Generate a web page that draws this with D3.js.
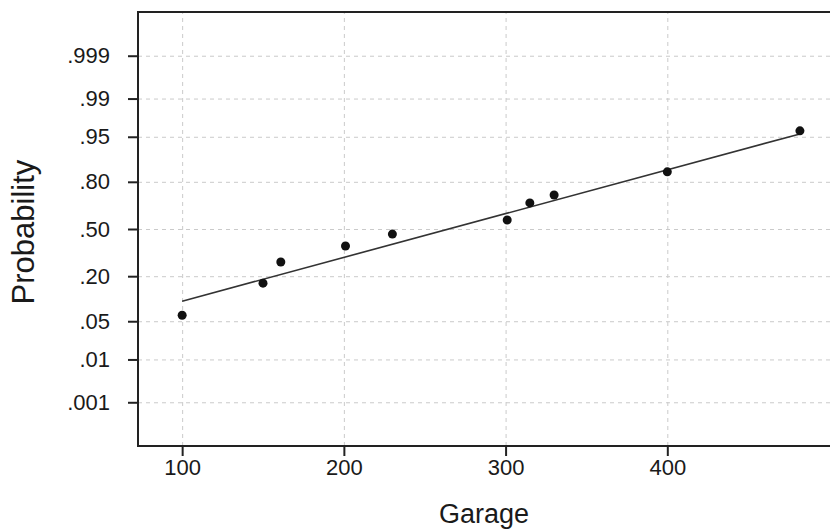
<!DOCTYPE html>
<html>
<head>
<meta charset="utf-8">
<script src="https://cdn.jsdelivr.net/npm/d3@7"></script>
<style>
  body { margin: 0; background: #fff; }
  svg { display: block; font-family: "Liberation Sans", Arial, sans-serif; }
  .grid line { stroke: #cacaca; stroke-width: 1; stroke-dasharray: 4,4; }
  .grid path { display: none; }
  .axis path { display: none; }
  .axis line { stroke: #222; stroke-width: 2; }
  .axis text { fill: #1a1a1a; font-size: 22px; }
</style>
</head>
<body>
<div id="chart"></div>
<script>
// data
var garage = [100, 150, 161, 201, 230, 301, 315, 330, 400, 482];
var prob = [0.062, 0.167, 0.278, 0.381, 0.464, 0.564, 0.679, 0.728, 0.846, 0.960];
// fitted line end points
var fitX = [100, 482];
var fitP = [0.099, 0.955];
var probTicks = [0.001, 0.01, 0.05, 0.20, 0.50, 0.80, 0.95, 0.99, 0.999];
var probLabels = [".001", ".01", ".05", ".20", ".50", ".80", ".95", ".99", ".999"];
var xTicks = [100, 200, 300, 400];

var svgWidth = 830;
var svgHeight = 532;
var margin = { top: 12, right: 0, bottom: 86, left: 138 };
var width = svgWidth - margin.left - margin.right;
var height = svgHeight - margin.top - margin.bottom;

// inverse normal cdf (Acklam)
function probit(p) {
  var a = [-3.969683028665376e+01, 2.209460984245205e+02, -2.759285104469687e+02, 1.383577518672690e+02, -3.066479806614716e+01, 2.506628277459239e+00];
  var b = [-5.447609879822406e+01, 1.615858368580409e+02, -1.556989798598866e+02, 6.680131188771972e+01, -1.328068155288572e+01];
  var c = [-7.784894002430293e-03, -3.223964580411365e-01, -2.400758277161838e+00, -2.549732539343734e+00, 4.374664141464968e+00, 2.938163982698783e+00];
  var d = [7.784695709041462e-03, 3.224671290700398e-01, 2.445134137142996e+00, 3.754408661907416e+00];
  var q, r;
  if (p < 0.02425) {
    q = Math.sqrt(-2 * Math.log(p));
    return (((((c[0]*q+c[1])*q+c[2])*q+c[3])*q+c[4])*q+c[5]) / ((((d[0]*q+d[1])*q+d[2])*q+d[3])*q+1);
  }
  if (p > 1 - 0.02425) {
    q = Math.sqrt(-2 * Math.log(1 - p));
    return -(((((c[0]*q+c[1])*q+c[2])*q+c[3])*q+c[4])*q+c[5]) / ((((d[0]*q+d[1])*q+d[2])*q+d[3])*q+1);
  }
  q = p - 0.5;
  r = q * q;
  return (((((a[0]*r+a[1])*r+a[2])*r+a[3])*r+a[4])*r+a[5])*q / (((((b[0]*r+b[1])*r+b[2])*r+b[3])*r+b[4])*r+1);
}

var svg = d3.select("#chart").append("svg")
  .attr("width", svgWidth)
  .attr("height", svgHeight);

var chartGroup = svg.append("g")
  .attr("transform", `translate(${margin.left}, ${margin.top})`);

var xScale = d3.scaleLinear().domain([72.7, 500.6]).range([0, width]);
var yScale = d3.scaleLinear().domain([-3.87, 3.87]).range([height, 0]);

// grid
chartGroup.append("g")
  .attr("class", "grid")
  .call(d3.axisLeft(yScale).tickValues(probTicks.map(probit)).tickSize(-width).tickFormat(""));
chartGroup.append("g")
  .attr("class", "grid")
  .attr("transform", `translate(0, ${height})`)
  .call(d3.axisBottom(xScale).tickValues(xTicks).tickSize(-height).tickFormat(""));

// axes
chartGroup.append("g")
  .attr("class", "axis")
  .call(d3.axisLeft(yScale)
    .tickValues(probTicks.map(probit))
    .tickSize(10)
    .tickPadding(18)
    .tickFormat(function(d, i) { return probLabels[i]; }));

chartGroup.append("g")
  .attr("class", "axis")
  .attr("transform", `translate(0, ${height})`)
  .call(d3.axisBottom(xScale)
    .tickValues(xTicks)
    .tickSize(10)
    .tickPadding(3)
    .tickFormat(d3.format("d")));

// frame (right side is off the page)
chartGroup.append("path")
  .attr("d", `M${width + 10},0H0V${height}H${width + 10}`)
  .attr("fill", "none")
  .attr("stroke", "#222")
  .attr("stroke-width", 2);

// fitted line
var fitData = fitX.map(function(x, i) { return [x, fitP[i]]; });
chartGroup.append("path")
  .datum(fitData)
  .attr("fill", "none")
  .attr("stroke", "#333")
  .attr("stroke-width", 1.6)
  .attr("d", d3.line()
    .x(function(d) { return xScale(d[0]); })
    .y(function(d) { return yScale(probit(d[1])); }));

// points
chartGroup.selectAll("circle")
  .data(garage)
  .enter()
  .append("circle")
  .attr("cx", function(d) { return xScale(d); })
  .attr("cy", function(d, i) { return yScale(probit(prob[i])); })
  .attr("r", 4.5)
  .attr("fill", "#111");

// axis labels
svg.append("text")
  .attr("transform", `translate(34, ${margin.top + yScale(0) + 3}) rotate(-90)`)
  .attr("text-anchor", "middle")
  .attr("font-size", "31px")
  .attr("fill", "#1a1a1a")
  .text("Probability");

svg.append("text")
  .attr("x", margin.left + width / 2)
  .attr("y", 523)
  .attr("text-anchor", "middle")
  .attr("font-size", "27px")
  .attr("fill", "#1a1a1a")
  .text("Garage");
</script>
</body>
</html>
